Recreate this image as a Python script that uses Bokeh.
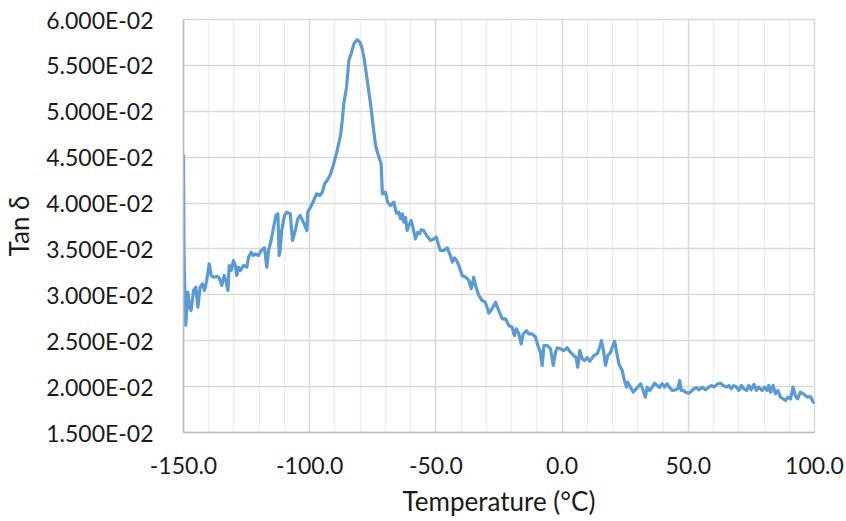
from bokeh.plotting import figure
from bokeh.models import Range1d, FixedTicker, CustomJSTickFormatter, PrintfTickFormatter
from bokeh.embed import file_html
from bokeh.resources import INLINE

# Loss tangent measured over a temperature sweep
temperature = [
    -150.0, -149.8, -149.4, -149.1, -148.3, -147.6, -147.0, -146.0, -145.1, -144.3,
    -143.4, -142.5, -141.7, -140.8, -139.8, -139.0, -138.1, -136.8, -135.9, -134.8,
    -133.9, -133.2, -132.4, -131.9, -131.1, -130.2, -129.5, -128.9, -128.2, -127.5,
    -126.2, -124.9, -124.2, -123.2, -122.3, -121.6, -120.3, -119.2, -117.9, -117.0,
    -116.3, -115.3, -114.3, -113.4, -112.6, -112.1, -111.7, -111.1, -110.0, -109.1,
    -107.7, -106.8, -105.7, -104.7, -103.8, -102.5, -101.1, -100.8, -99.7, -98.4,
    -97.3, -96.0, -95.0, -94.1, -93.1, -91.8, -90.5, -89.1, -87.8, -87.1,
    -86.5, -85.4, -84.5, -83.6, -82.5, -81.2, -80.1, -79.2, -78.3, -77.2,
    -75.9, -74.8, -73.9, -73.0, -71.7, -71.2, -70.0, -69.1, -68.0, -66.7,
    -65.6, -64.7, -64.0, -63.3, -62.7, -62.0, -61.4, -60.7, -59.8, -59.0,
    -58.1, -57.2, -56.4, -55.8, -54.8, -53.7, -52.1, -50.8, -49.8, -48.9,
    -48.2, -46.9, -45.5, -44.5, -43.5, -42.6, -41.8, -40.9, -39.6, -37.9,
    -36.9, -36.0, -35.0, -34.3, -33.0, -31.7, -30.4, -29.0, -27.7, -26.4,
    -25.1, -23.7, -22.4, -21.1, -19.8, -18.9, -18.1, -17.2, -16.2, -15.4,
    -14.1, -13.2, -11.8, -10.5, -9.6, -8.6, -7.9, -7.2, -5.9, -4.6,
    -3.5, -2.6, -1.9, -0.6, 0.7, 2.0, 3.3, 4.6, 5.5, 6.2,
    7.0, 8.0, 8.9, 9.9, 11.0, 12.6, 13.9, 14.9, 15.6, 16.4,
    17.2, 18.1, 19.2, 20.0, 20.8, 21.6, 22.5, 23.8, 24.7, 25.5,
    26.0, 27.1, 28.2, 29.1, 30.0, 31.1, 32.1, 33.0, 33.7, 34.7,
    35.7, 36.6, 37.7, 38.6, 39.7, 40.6, 41.6, 42.6, 43.6, 44.9,
    45.9, 46.6, 47.2, 48.1, 48.9, 50.2, 51.2, 52.2, 53.3, 54.2,
    55.5, 56.8, 58.1, 59.1, 60.2, 61.7, 62.8, 63.8, 65.1, 66.1,
    67.0, 68.0, 69.1, 70.0, 71.0, 72.0, 73.1, 74.0, 74.9, 76.0,
    77.0, 77.9, 79.3, 80.2, 81.3, 81.9, 82.6, 83.6, 84.5, 85.5,
    86.5, 87.6, 88.5, 89.4, 90.5, 91.5, 92.4, 93.3, 94.4, 95.5,
    96.4, 97.3, 98.4, 99.5, 100.0,
]

tan_delta = [
    0.04518, 0.03483, 0.02938, 0.02666, 0.03029, 0.02865, 0.02829, 0.03047, 0.03083, 0.02865,
    0.03083, 0.03120, 0.03047, 0.03156, 0.03338, 0.03211, 0.03192, 0.03200, 0.03186, 0.03102,
    0.03211, 0.03156, 0.03047, 0.03320, 0.03265, 0.03374, 0.03320, 0.03211, 0.03301, 0.03265,
    0.03320, 0.03301, 0.03410, 0.03464, 0.03429, 0.03447, 0.03429, 0.03483, 0.03512, 0.03301,
    0.03483, 0.03592, 0.03737, 0.03864, 0.03883, 0.03429, 0.03483, 0.03701, 0.03864, 0.03900,
    0.03883, 0.03592, 0.03701, 0.03828, 0.03864, 0.03791, 0.03701, 0.03900, 0.03955, 0.04028,
    0.04101, 0.04082, 0.04118, 0.04210, 0.04246, 0.04311, 0.04428, 0.04573, 0.04736, 0.04900,
    0.05081, 0.05262, 0.05553, 0.05626, 0.05735, 0.05779, 0.05753, 0.05681, 0.05553, 0.05335,
    0.05081, 0.04826, 0.04627, 0.04537, 0.04428, 0.04101, 0.04118, 0.04009, 0.03973, 0.04009,
    0.03889, 0.03900, 0.03828, 0.03883, 0.03791, 0.03843, 0.03701, 0.03755, 0.03810, 0.03723,
    0.03610, 0.03682, 0.03668, 0.03709, 0.03701, 0.03646, 0.03592, 0.03610, 0.03628, 0.03538,
    0.03483, 0.03483, 0.03512, 0.03447, 0.03356, 0.03403, 0.03374, 0.03320, 0.03211, 0.03186,
    0.03156, 0.03066, 0.03192, 0.03102, 0.02993, 0.02938, 0.02920, 0.02800, 0.02851, 0.02920,
    0.02829, 0.02739, 0.02739, 0.02666, 0.02647, 0.02557, 0.02630, 0.02579, 0.02466, 0.02575,
    0.02611, 0.02575, 0.02575, 0.02538, 0.02448, 0.02375, 0.02230, 0.02448, 0.02448, 0.02412,
    0.02230, 0.02375, 0.02423, 0.02412, 0.02393, 0.02423, 0.02375, 0.02339, 0.02317, 0.02211,
    0.02393, 0.02303, 0.02284, 0.02314, 0.02277, 0.02339, 0.02357, 0.02429, 0.02502, 0.02393,
    0.02230, 0.02339, 0.02375, 0.02437, 0.02495, 0.02375, 0.02248, 0.02175, 0.02067, 0.01994,
    0.02048, 0.01994, 0.01939, 0.01968, 0.01994, 0.02031, 0.01958, 0.01885, 0.01994, 0.01958,
    0.01994, 0.02037, 0.02012, 0.01990, 0.02031, 0.01994, 0.02031, 0.01990, 0.01958, 0.01965,
    0.01979, 0.02067, 0.01958, 0.01958, 0.01939, 0.01928, 0.01950, 0.01976, 0.01990, 0.01965,
    0.01994, 0.01965, 0.01994, 0.02012, 0.01996, 0.02031, 0.02037, 0.02012, 0.01994, 0.02012,
    0.01976, 0.02012, 0.01994, 0.01958, 0.02012, 0.01976, 0.01958, 0.02012, 0.01965, 0.02023,
    0.01958, 0.01994, 0.01958, 0.01994, 0.01958, 0.02012, 0.01939, 0.02012, 0.01922, 0.01958,
    0.01885, 0.01867, 0.01849, 0.01885, 0.01867, 0.01994, 0.01903, 0.01867, 0.01939, 0.01922,
    0.01903, 0.01885, 0.01892, 0.01830, 0.01827,
]

x_major_ticks = [-150, -100, -50, 0, 50, 100]
x_minor_ticks = [-140, -130, -120, -110, -90, -80, -70, -60, -40, -30, -20, -10,
                 10, 20, 30, 40, 60, 70, 80, 90]
y_ticks = [0.015, 0.020, 0.025, 0.030, 0.035, 0.040, 0.045, 0.050, 0.055, 0.060]

FONT = "Lato"
TEXT_COLOR = "#1a1a1a"
GRID = "#d9d9d9"

p = figure(
    width=846, height=521,
    x_range=Range1d(-150, 100), y_range=Range1d(0.015, 0.060),
    output_backend="svg", toolbar_location=None,
    min_border_left=183, min_border_right=32, min_border_top=19, min_border_bottom=89,
    background_fill_color="white", border_fill_color="white",
    outline_line_color=GRID, outline_line_width=1.5,
)

p.line(temperature, tan_delta, line_color="#5B9BD5", line_width=3.2,
       line_join="round", line_cap="round")

# x axis
p.xaxis.ticker = FixedTicker(ticks=x_major_ticks, minor_ticks=x_minor_ticks)
p.xaxis.formatter = PrintfTickFormatter(format="%.1f")
p.xaxis.axis_label = "Temperature (°C)"
# y axis, Excel-style scientific labels
p.yaxis.ticker = FixedTicker(ticks=y_ticks)
p.yaxis.formatter = CustomJSTickFormatter(code="""
    const s = tick.toExponential(3).toUpperCase();
    const parts = s.split("E");
    const e = parts[1];
    const sign = e[0] === "-" ? "-" : "+";
    const d = e.replace(/^[+-]/, "");
    return parts[0] + "E" + sign + d.padStart(2, "0");
""")
p.yaxis.axis_label = "Tan δ"

for ax in (p.xaxis[0], p.yaxis[0]):
    ax.axis_line_color = "#bfbfbf"
    ax.axis_line_width = 1.5
    ax.major_tick_line_color = None
    ax.minor_tick_line_color = None
    ax.major_label_text_font = FONT
    ax.major_label_text_font_size = "23px"
    ax.major_label_text_color = TEXT_COLOR
    ax.axis_label_text_font = FONT
    ax.axis_label_text_font_size = "26px"
    ax.axis_label_text_font_style = "normal"
    ax.axis_label_text_color = TEXT_COLOR

p.xaxis.major_label_standoff = 18
p.xaxis.axis_label_standoff = 8
p.yaxis.major_label_standoff = 24
p.yaxis.axis_label_standoff = 8

# grid lines
p.xgrid.ticker = p.xaxis.ticker
p.xgrid.grid_line_color = GRID
p.xgrid.grid_line_width = 1.5
p.xgrid.minor_grid_line_color = "#efefef"
p.xgrid.minor_grid_line_width = 1.5
p.ygrid.ticker = p.yaxis.ticker
p.ygrid.grid_line_color = GRID
p.ygrid.grid_line_width = 1.5

open("out.html", "w").write(file_html(p, INLINE))
